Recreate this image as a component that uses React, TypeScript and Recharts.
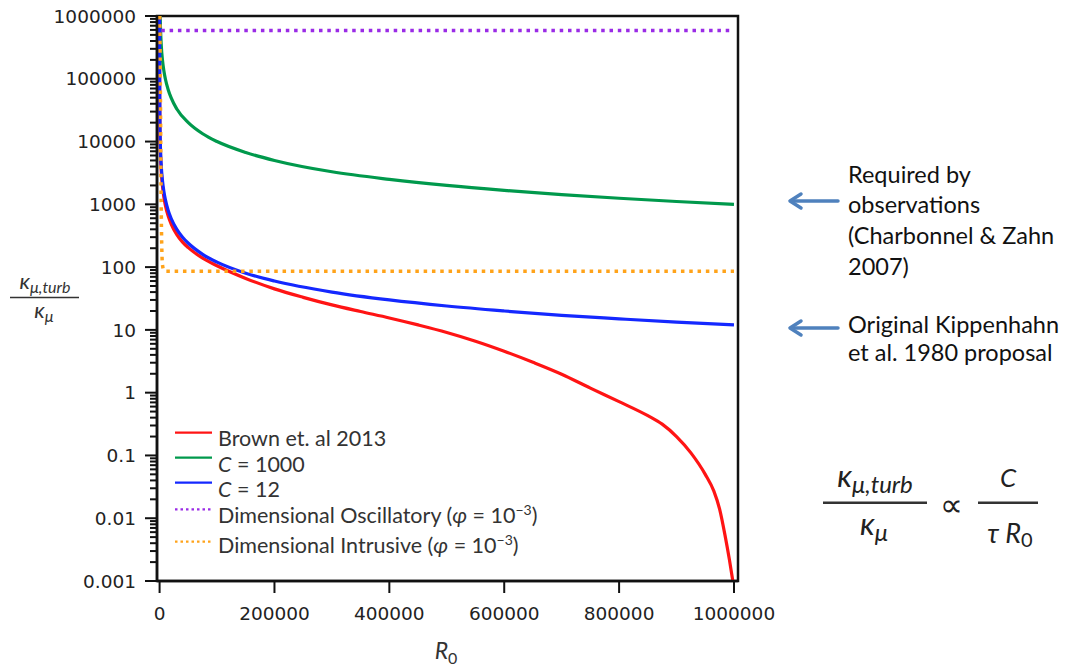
import React from "react";
import { LineChart, Line, XAxis, YAxis, Legend, ReferenceArea } from "recharts";

// R0 samples and kappa ratio values
const brownR0 = [12, 50, 200, 600, 1500, 3000, 5000, 7500, 10000, 15000, 20000, 30000, 40000, 50000, 75000, 100000, 150000, 200000, 250000, 300000, 350000, 400000, 450000, 500000, 550000, 600000, 650000, 700000, 750000, 800000, 850000, 875000, 900000, 925000, 950000, 965000, 975000, 985000, 992000, 998000];
const brownK = [800000, 190000, 48000, 16000, 6500, 3250, 1950, 1300, 970, 650, 490, 330, 250, 204, 139, 105, 66, 45, 33, 25, 19.6, 15.5, 12.0, 9.1, 6.6, 4.57, 3.05, 1.97, 1.18, 0.72, 0.43, 0.315, 0.2, 0.11, 0.05, 0.027, 0.014, 0.005, 0.0022, 0.001];

const c12R0 = [12, 50, 200, 600, 1500, 3000, 5000, 7500, 10000, 15000, 20000, 30000, 40000, 50000, 75000, 100000, 150000, 200000, 300000, 400000, 500000, 600000, 700000, 800000, 900000, 1000000];
const c12K = [1000000, 240000, 60000, 20000, 8000, 4000, 2400, 1600, 1200, 800, 600, 400, 300, 240, 160, 120, 80, 60, 40, 30, 24, 20, 17, 15, 13.3, 12];

const c1000R0 = [1000, 1500, 3000, 5000, 7500, 10000, 15000, 20000, 30000, 50000, 75000, 100000, 150000, 200000, 300000, 400000, 500000, 600000, 700000, 800000, 900000, 1000000];
const c1000K = [1000000, 667000, 333000, 200000, 133000, 100000, 67000, 50000, 33000, 20000, 13300, 10000, 6700, 5000, 3300, 2500, 2000, 1670, 1430, 1250, 1110, 1000];

const oscR0 = [3000, 1000000];
const oscK = [590000, 590000];

const intrR0 = [300, 1500, 2500, 3500, 5000, 7000, 10000, 1000000];
const intrK = [1000000, 50000, 2000, 300, 110, 90, 86, 86];

const xDomain = [-4500, 1007000];
const yDomain = [0.001, 1000000];
const xTicks = [0, 200000, 400000, 600000, 800000, 1000000];
const yDecades = [0.001, 0.01, 0.1, 1, 10, 100, 1000, 10000, 100000, 1000000];
const minorSteps = [2, 3, 4, 5, 6, 7, 8, 9];
const yTicks = [
  ...yDecades,
  ...yDecades.slice(0, -1).flatMap((d) => minorSteps.map((m) => +(d * m).toPrecision(3))),
].sort((a, b) => a - b);

// chart layout
const W = 1091;
const H = 666;
const marginTop = 16;
const marginRight = 353;
const xAxisHeight = 85;
const yAxisWidth = 157;
const plotHeight = H - marginTop - xAxisHeight;

const toRows = (xs: number[], ys: number[]) => xs.map((r0, i) => ({ r0, k: ys[i] }));

const series = [
  { key: "brown", name: "Brown et. al 2013", color: "#ff1414", dash: undefined as string | undefined, data: toRows(brownR0, brownK) },
  { key: "c1000", name: "C = 1000", color: "#00994c", dash: undefined, data: toRows(c1000R0, c1000K) },
  { key: "c12", name: "C = 12", color: "#1428ff", dash: undefined, data: toRows(c12R0, c12K) },
  { key: "osc", name: "Dimensional Oscillatory", color: "#9a2be6", dash: "3.5 4.8", data: toRows(oscR0, oscK) },
  { key: "intr", name: "Dimensional Intrusive", color: "#ffa31a", dash: "3.5 4.8", data: toRows(intrR0, intrK) },
];

const tickFont = "'DejaVu Sans', sans-serif";
const textFont = "Lato, 'Open Sans', sans-serif";

const isDecade = (v: number) => {
  const l = Math.log10(v);
  return Math.abs(l - Math.round(l)) < 1e-6;
};

// log axis tick: long tick + label on decades, short tick otherwise
function LogTick(props: any) {
  const x = Number(props.x);
  const y = Number(props.y);
  const v = Number(props.payload?.value);
  const major = isDecade(v);
  // if the axis only handed us decades, add the minor marks of the decade below
  const onlyDecades = Number(props.visibleTicksCount) <= yDecades.length;
  const perDecade = plotHeight / Math.log10(yDomain[1] / yDomain[0]);
  const minors =
    major && onlyDecades && v > yDomain[0]
      ? minorSteps.map((m) => y + perDecade * (1 - Math.log10(m)))
      : [];
  return (
    <g>
      <line x1={x - (major ? 12 : 7)} x2={x} y1={y} y2={y} stroke="#111" strokeWidth={2} />
      {minors.map((ym, i) => (
        <line key={i} x1={x - 7} x2={x} y1={ym} y2={ym} stroke="#111" strokeWidth={1.8} />
      ))}
      {major && (
        <text x={x - 21} y={y} dy="0.36em" textAnchor="end" fontFamily={tickFont} fontSize={18.5} fill="#222">
          {String(Number(v.toPrecision(6)))}
        </text>
      )}
    </g>
  );
}

function LegendBox() {
  const rows = [12.7, 37.7, 62.7, 89.3, 121.7];
  const base = [26, 51.7, 77.3, 103.3, 133.3];
  const sup = (
    <>
      {" ("}
      <tspan fontStyle="italic">φ</tspan>
      {" = 10"}
      <tspan dy={-8} fontSize={14}>−3</tspan>
      <tspan dy={8}>)</tspan>
    </>
  );
  return (
    <svg width={460} height={145} style={{ overflow: "visible" }}>
      {series.map((s, i) => (
        <g key={s.key}>
          <line x1={5} x2={42} y1={rows[i]} y2={rows[i]} stroke={s.color} strokeWidth={2.2} strokeDasharray={s.dash ? "2.5 3" : undefined} />
          <text x={48} y={base[i]} fontFamily={textFont} fontSize={21.5} fill="#333">
            {s.key === "c1000" || s.key === "c12" ? (
              <>
                <tspan fontStyle="italic">C</tspan>
                {s.name.slice(1)}
              </>
            ) : (
              s.name
            )}
            {(s.key === "osc" || s.key === "intr") && sup}
          </text>
        </g>
      ))}
    </svg>
  );
}

function Overlay() {
  const arrow = "#4f81bd";
  return (
    <svg width={W} height={H} style={{ position: "absolute", left: 0, top: 0, pointerEvents: "none" }}>
      {/* y label */}
      <g fontFamily={textFont} fill="#333" fontStyle="italic">
        <text x={45} y={289} textAnchor="middle" fontSize={22}>
          κ<tspan fontSize={16} dy={4}>μ,turb</tspan>
        </text>
        <line x1={10} x2={79} y1={297.5} y2={297.5} stroke="#333" strokeWidth={1.5} />
        <text x={44} y={318} textAnchor="middle" fontSize={22}>
          κ<tspan fontSize={16} dy={4}>μ</tspan>
        </text>
      </g>
      {/* x label */}
      <text x={446} y={659} textAnchor="middle" fontFamily={textFont} fontSize={23} fill="#333" fontStyle="italic">
        R<tspan fontSize={16} dy={5} fontStyle="normal">0</tspan>
      </text>
      {/* annotations */}
      <g fontFamily={textFont} fontSize={23.5} fill="#111">
        <text x={848} y={183}>Required by</text>
        <text x={848} y={213}>observations</text>
        <text x={848} y={244}>(Charbonnel &amp; Zahn</text>
        <text x={848} y={275}>2007)</text>
        <text x={848} y={333}>Original Kippenhahn</text>
        <text x={848} y={361}>et al. 1980 proposal</text>
      </g>
      <g stroke={arrow} strokeWidth={3.5} fill="none" strokeLinecap="round" strokeLinejoin="round">
        <line x1={838} y1={201} x2={792} y2={201} />
        <polyline points="801,194 790,201 801,208" />
        <line x1={838} y1={328} x2={792} y2={328} />
        <polyline points="801,321 790,328 801,335" />
      </g>
      {/* formula */}
      <g fontFamily={textFont} fill="#222" fontStyle="italic">
        <text x={875} y={487} textAnchor="middle" fontSize={31}>
          κ<tspan fontSize={24} dy={6}>μ,turb</tspan>
        </text>
        <line x1={823} x2={927} y1={502.7} y2={502.7} stroke="#333" strokeWidth={2.5} />
        <text x={874} y={535} textAnchor="middle" fontSize={31}>
          κ<tspan fontSize={24} dy={6}>μ</tspan>
        </text>
        <text x={951} y={516} textAnchor="middle" fontSize={32} fontStyle="normal">∝</text>
        <text x={1008} y={487} textAnchor="middle" fontSize={26}>C</text>
        <line x1={978} x2={1038} y1={502.7} y2={502.7} stroke="#333" strokeWidth={2.5} />
        <text x={1010} y={543} textAnchor="middle" fontSize={27}>
          τ R<tspan fontSize={20} dy={4} fontStyle="normal">0</tspan>
        </text>
      </g>
    </svg>
  );
}

export default function App() {
  return (
    <div style={{ position: "absolute", left: 0, top: 0, width: W, height: H, background: "#fff" }}>
      <LineChart width={W} height={H} margin={{ top: marginTop, right: marginRight, bottom: 0, left: 0 }}>
        <XAxis
          dataKey="r0"
          type="number"
          domain={xDomain}
          ticks={xTicks}
          allowDataOverflow
          height={xAxisHeight}
          tickSize={12}
          tickMargin={14}
          axisLine={{ stroke: "#111", strokeWidth: 2.5 }}
          tickLine={{ stroke: "#111", strokeWidth: 2 }}
          tick={{ fontFamily: tickFont, fontSize: 18.5, fill: "#222" }}
        />
        <YAxis
          type="number"
          scale="log"
          domain={yDomain}
          allowDataOverflow
          ticks={yTicks}
          tickCount={100}
          interval={0}
          width={yAxisWidth}
          tickSize={0}
          tickMargin={0}
          tickLine={false}
          axisLine={{ stroke: "#111", strokeWidth: 2.5 }}
          tick={(p: any) => <LogTick {...p} />}
        />
        <ReferenceArea x1={xDomain[0]} x2={xDomain[1]} y1={yDomain[0]} y2={yDomain[1]} fill="none" stroke="#111" strokeWidth={2.5} />
        {series.map((s) => (
          <Line
            key={s.key}
            data={s.data}
            dataKey="k"
            name={s.name}
            type="monotone"
            stroke={s.color}
            strokeWidth={s.dash ? 3.5 : 3.2}
            strokeDasharray={s.dash}
            dot={false}
            isAnimationActive={false}
          />
        ))}
        <Legend
          layout="horizontal"
          align="center"
          verticalAlign="middle"
          wrapperStyle={{ left: 170, top: 420, width: 460, height: 145 }}
          content={() => <LegendBox />}
        />
      </LineChart>
      <Overlay />
    </div>
  );
}
